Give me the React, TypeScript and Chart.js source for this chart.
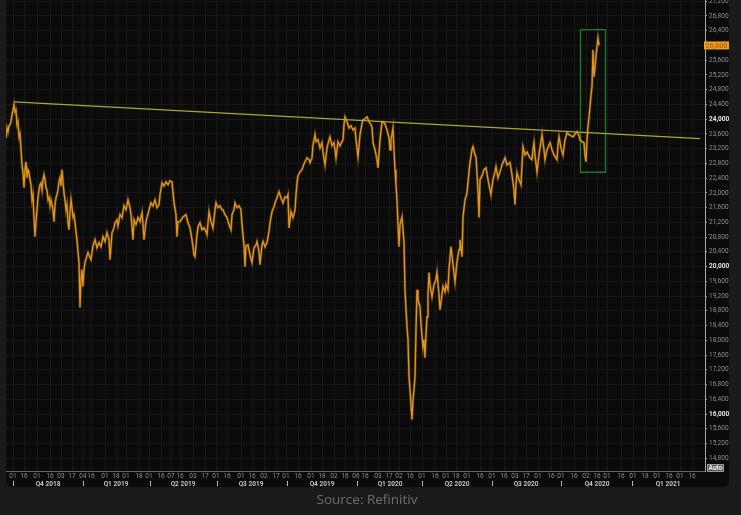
import { useEffect, useRef } from "react"
import { Chart, registerables, type Plugin } from "chart.js"

Chart.register(...registerables)

// Price readings as [trading session, close]
const leg2018: number[][] = [
  [0, 23490], [1, 23760], [2, 23660], [3, 23820], [4, 23850], [5, 23930], [6, 24120], [7, 24250], [8, 24390], [9, 24200],
  [10, 24250], [11, 23850], [12, 23930], [13, 23520], [14, 23600], [15, 23170], [16, 22760], [17, 22550], [18, 22140], [19, 22630],
  [20, 22840], [21, 22410], [22, 22630], [23, 22570], [24, 22360], [25, 22220], [26, 21810], [27, 21950], [28, 21330], [29, 20810],
  [30, 21220], [31, 21540], [32, 21870], [33, 22080], [34, 22220], [35, 22270], [36, 22080], [37, 22360], [38, 22490], [39, 22360],
  [40, 22140], [41, 22080], [42, 21810], [43, 21870], [44, 21650], [45, 21810], [46, 21680], [47, 21540], [48, 21220], [49, 21680],
  [50, 21870], [51, 21950], [52, 22080], [53, 22300], [54, 22410], [55, 22190], [56, 22630], [57, 22300], [58, 22000], [59, 21810],
  [60, 21540], [61, 21680], [62, 21190], [63, 21000], [64, 21490], [65, 21810], [66, 21600], [67, 21350], [68, 21410], [69, 21190],
  [70, 20950], [71, 20730], [72, 20400], [73, 20110], [74, 18890], [75, 19650], [76, 19920], [77, 19460], [78, 19920], [79, 20110],
]

const leg2019: number[][] = [
  [81, 20300], [82, 20380], [84, 20240], [85, 20190], [87, 20570], [89, 20730], [91, 20510], [93, 20650], [95, 20540], [97, 20810],
  [99, 20680], [101, 20920], [103, 20730], [104, 20190], [106, 20920], [108, 21050], [109, 21190], [111, 21270], [112, 21110], [114, 21410],
  [116, 21330], [118, 21650], [120, 21540], [122, 21810], [124, 21600], [125, 21410], [127, 20730], [128, 21270], [130, 21140], [132, 21330],
  [134, 21220], [136, 21460], [137, 21140], [138, 20730], [140, 21220], [141, 21330], [143, 21540], [145, 21730], [147, 21650], [149, 21810],
  [151, 21600], [153, 21680], [154, 21950], [156, 22270], [158, 22190], [160, 22300], [162, 22220], [164, 22330], [166, 22300], [167, 22030],
  [168, 21730], [170, 21410], [171, 20810], [172, 21220], [174, 21220], [177, 21350], [180, 21410], [182, 21190], [184, 21050], [186, 20730],
  [188, 20320], [189, 20270], [191, 20870], [192, 21080], [194, 21190], [196, 21000], [198, 21050], [200, 20950], [201, 20870], [203, 21490],
  [205, 21220], [207, 21050], [209, 21540], [210, 21730], [212, 21600], [214, 21650], [216, 21540], [217, 21540], [219, 21410], [221, 21330],
  [223, 21140], [225, 21000], [226, 21410], [228, 21540], [229, 21730], [231, 21600], [233, 21650], [235, 21540], [236, 21140], [238, 20590],
  [239, 20000], [240, 20570], [242, 20590], [244, 20320], [246, 20110], [248, 20510], [250, 20590], [251, 20680], [253, 20410], [254, 20050],
  [256, 20590], [257, 20680], [259, 20540], [261, 20650], [263, 20950], [264, 21190], [266, 21490], [268, 21620], [269, 21730], [271, 21870],
  [273, 22030], [275, 21870], [277, 21730], [279, 21890], [281, 21870], [282, 21950], [283, 21050], [285, 21490], [287, 21330], [289, 21540],
  [290, 21950], [291, 22270], [292, 22460], [294, 22570], [296, 22630], [298, 22790], [300, 22900], [301, 22950], [303, 22900], [304, 22820],
  [306, 22950], [307, 23300], [309, 23580], [310, 23390], [312, 23440], [314, 23220], [316, 23360], [317, 23110], [319, 22760], [321, 23220],
  [323, 23440], [324, 23520], [326, 23280], [328, 23360], [330, 22950], [331, 23170], [332, 23390], [334, 23280], [336, 23390], [337, 23440],
  [338, 23850], [339, 24060], [341, 23930], [343, 23760], [345, 23820], [347, 23710], [349, 23760], [350, 23440], [352, 22980], [354, 23580],
  [356, 23870], [357, 23980], [359, 24010], [361, 24060], [363, 23930], [365, 23850], [366, 23790], [367, 23360], [369, 23170], [371, 22900],
]

const leg2020: number[][] = [
  [372, 22680], [374, 23440], [376, 23930], [377, 23930], [379, 23870], [381, 23710], [383, 23490], [384, 23170], [385, 23440], [387, 23760],
  [388, 23170], [389, 22630], [390, 22220], [391, 21810], [392, 21140], [393, 20540], [394, 21140], [396, 21350], [397, 21000], [398, 20650],
  [399, 19370], [400, 18830], [401, 18370], [402, 18020], [403, 17020], [404, 16660], [405, 16260], [406, 15850], [407, 16390], [408, 16660],
  [409, 17020], [410, 18290], [411, 19370], [412, 19100], [414, 18910], [415, 18430], [417, 17830], [418, 18020], [419, 17530], [420, 18150],
  [421, 18640], [422, 19240], [423, 19840], [424, 19510], [426, 19180], [428, 19510], [430, 19650], [431, 19840], [433, 19240], [434, 18830],
  [436, 19240], [437, 19460], [439, 19320], [440, 19510], [442, 19370], [443, 19920], [445, 20540], [447, 20050], [449, 19590], [451, 20130],
  [453, 20460], [454, 20730], [456, 20270], [457, 21350], [459, 21810], [461, 22000], [463, 22570], [464, 22820], [466, 23170], [467, 23250],
  [469, 23030], [470, 22980], [472, 22080], [473, 21330], [474, 22360], [476, 22460], [478, 22630], [480, 22680], [482, 22360], [484, 22080],
  [485, 21950], [487, 22360], [489, 22570], [490, 22710], [492, 22410], [494, 22570], [496, 22760], [499, 22950], [501, 22760], [504, 22820],
  [506, 22490], [508, 22080], [509, 21680], [510, 22220], [511, 22550], [513, 22360], [515, 22220], [516, 22760], [517, 23250], [519, 23030],
  [521, 23110], [524, 22950], [526, 22900], [527, 23170], [528, 23360], [529, 23030], [531, 22570], [533, 23030], [535, 23390], [536, 23580],
  [538, 23170], [539, 22900], [541, 23170], [543, 23300], [544, 23360], [546, 23170], [548, 23030], [551, 22900], [552, 23300], [553, 23520],
  [555, 23220], [557, 23030], [559, 23440], [561, 23630], [563, 23580], [565, 23550], [567, 23520], [569, 23600], [571, 23660], [573, 23550],
  [574, 23440], [576, 23390], [578, 23360], [579, 23030], [580, 22840], [581, 23440], [582, 23790], [583, 24040], [584, 24330], [585, 24660],
  [586, 24880], [587, 25880], [588, 25150], [589, 25420], [590, 25740], [591, 25960], [592, 26200], [593, 26000],
]

const closes = [...leg2018, ...leg2019, ...leg2020]

const trendLine = [[8, 24470], [694, 23470]]
const breakoutBox = [[574.5, 26430], [599.5, 26430], [599.5, 22560], [574.5, 22560], [574.5, 26430]]

const yTicks = [
  27200, 26800, 26400, 26000, 25600, 25200, 24800, 24400, 24000, 23600, 23200, 22800, 22400, 22000, 21600, 21200,
  20800, 20400, 20000, 19600, 19200, 18800, 18400, 18000, 17600, 17200, 16800, 16400, 16000, 15600, 15200, 14800,
]
const boldTicks = [24000, 20000, 16000]

const dayTicks = [
  7, 18, 31, 44, 55, 66, 77, 85, 99, 110, 120, 133, 143, 155, 165, 174, 187, 199, 210, 221, 235, 246, 258, 270, 280, 292, 305, 316, 328, 339, 350, 359,
  372, 383, 393, 404, 416, 429, 440, 450, 461, 474, 486, 498, 509, 520, 532, 545, 555, 568, 580, 591, 601, 615, 627, 639, 651, 663, 674, 686,
]
const dayLabels = [
  "01", "16", "01", "16", "03", "17", "04", "16", "01", "18", "01", "18", "01", "16", "07", "16", "03", "17", "01", "16", "01", "16", "02", "17", "01", "16", "01", "18", "02", "16", "06", "16",
  "03", "17", "02", "16", "01", "16", "01", "18", "01", "16", "01", "16", "03", "17", "01", "16", "01", "16", "02", "16", "01", "16", "01", "18", "01", "16", "01", "16",
]

const quarterStarts = [7, 77, 144, 211, 281, 351, 416, 486, 555, 626]
const quarterCentres = [42, 110, 177, 245, 316, 384, 451, 520, 591, 662]
const quarterLabels = ["Q4 2018", "Q1 2019", "Q2 2019", "Q3 2019", "Q4 2019", "Q1 2020", "Q2 2020", "Q3 2020", "Q4 2020", "Q1 2021"]

const FONT = "Roboto, 'DejaVu Sans', sans-serif"
const ORANGE = "#e0951c"

const panelPlugin: Plugin = {
  id: "panel",
  beforeDraw(chart) {
    const { ctx, chartArea } = chart
    ctx.save()
    ctx.fillStyle = "#0b0b0b"
    ctx.beginPath()
    ctx.roundRect(chartArea.left, 0, 723, 487, [0, 0, 5, 5])
    ctx.fill()
    ctx.restore()
  },
  afterDraw(chart) {
    const { ctx, scales } = chart
    const last = closes[closes.length - 1][1]
    const y = scales.y.getPixelForValue(last)
    ctx.save()
    // quarter dividers under the day labels
    ctx.strokeStyle = "#bbbbbb"
    ctx.lineWidth = 1
    quarterStarts.forEach((q) => {
      const x = Math.round(scales.x.getPixelForValue(q)) + 0.5
      ctx.beginPath()
      ctx.moveTo(x, 481)
      ctx.lineTo(x, 486)
      ctx.stroke()
    })
    // last price tag
    ctx.fillStyle = "#eda01f"
    ctx.fillRect(704, y - 4, 25, 8)
    ctx.fillStyle = "#b8660a"
    ctx.font = `bold 7px ${FONT}`
    ctx.textAlign = "left"
    ctx.textBaseline = "middle"
    ctx.fillText("26,000", 705.5, y + 0.5)
    ctx.restore()
  },
}

export default function App() {
  const canvasRef = useRef<HTMLCanvasElement>(null)

  useEffect(() => {
    if (!canvasRef.current) return
    const pricePoints = closes.map(([x, y]) => ({ x, y }))
    const chart = new Chart(canvasRef.current, {
      type: "line",
      data: {
        datasets: [
          {
            label: "Trend",
            data: trendLine.map(([x, y]) => ({ x, y })),
            borderColor: "#a9a92f",
            borderWidth: 1.2,
            pointRadius: 0,
          },
          {
            label: "Price",
            data: pricePoints,
            borderColor: ORANGE,
            borderWidth: 1.3,
            pointRadius: 0,
            tension: 0,
          },
          {
            // wider soft stroke under the price, for the high/low fuzz of the bars
            label: "Price range",
            data: pricePoints,
            borderColor: "rgba(224, 149, 28, 0.35)",
            borderWidth: 2.6,
            pointRadius: 0,
            tension: 0,
          },
          {
            label: "Breakout",
            data: breakoutBox.map(([x, y]) => ({ x, y })),
            borderColor: "#1c7a2b",
            borderWidth: 1.3,
            pointRadius: 0,
          },
        ],
      },
      options: {
        responsive: false,
        animation: false,
        layout: { padding: { left: 6, right: 12, top: 0, bottom: 27 } },
        plugins: { legend: { display: false }, tooltip: { enabled: false } },
        scales: {
          x: {
            type: "linear",
            min: 0,
            max: 699,
            weight: 0,
            afterBuildTicks: (scale) => {
              scale.ticks = dayTicks.map((value) => ({ value }))
            },
            afterFit: (scale) => {
              scale.height = 9
            },
            ticks: {
              autoSkip: false,
              maxRotation: 0,
              padding: 1,
              color: "#8f8f8f",
              font: { family: FONT, size: 6.5 },
              callback: (value) => dayLabels[dayTicks.indexOf(value as number)],
            },
            grid: { color: "#171717", lineWidth: 1, drawTicks: false },
            border: { color: "#666666" },
          },
          x2: {
            type: "linear",
            axis: "x",
            position: "bottom",
            min: 0,
            max: 699,
            weight: 1,
            afterBuildTicks: (scale) => {
              scale.ticks = quarterCentres.map((value) => ({ value }))
            },
            afterFit: (scale) => {
              scale.height = 8
            },
            ticks: {
              autoSkip: false,
              maxRotation: 0,
              padding: 0,
              color: "#c4c4c4",
              font: { family: FONT, size: 6.5, weight: "bold" },
              callback: (value) => quarterLabels[quarterCentres.indexOf(value as number)],
            },
            grid: { display: false, drawTicks: false },
            border: { display: false },
          },
          y: {
            type: "linear",
            position: "right",
            min: 14455,
            max: 27233,
            afterBuildTicks: (scale) => {
              scale.ticks = yTicks.map((value) => ({ value }))
            },
            afterFit: (scale) => {
              scale.width = 24
              // the top label may run off the canvas, plot area starts at the very top
              scale.paddingTop = 0
              scale.paddingBottom = 0
            },
            ticks: {
              autoSkip: false,
              padding: 2,
              color: (ctx) => (boldTicks.includes(ctx.tick.value) ? "#e6e6e6" : "#8f8f8f"),
              font: (ctx) => ({
                family: FONT,
                size: 6.5,
                weight: boldTicks.includes(ctx.tick?.value) ? "bold" : "normal",
              }),
              callback: (value) => Number(value).toLocaleString("en-US"),
            },
            grid: { color: "#171717", lineWidth: 1, tickColor: "#8f8f8f", tickLength: 2 },
            border: { color: "#a8a8a8" },
          },
        },
      },
      plugins: [panelPlugin],
    })

    return () => {
      chart.destroy()
    }
  }, [])

  return (
    <div style={{ position: "absolute", left: 0, top: 0, width: 741, height: 515, background: "#1a1a1a", overflow: "hidden" }}>
      <canvas ref={canvasRef} width={741} height={515} style={{ display: "block", filter: "blur(0.35px)" }} />
      <div
        style={{
          position: "absolute",
          left: 707,
          top: 464,
          width: 17,
          height: 8,
          background: "#555555",
          border: "1px solid #9a9a9a",
          boxSizing: "border-box",
          color: "#eeeeee",
          font: `bold 6.5px ${FONT}`,
          lineHeight: "6px",
          textAlign: "center",
        }}
      >
        Auto
      </div>
      <div
        style={{
          position: "absolute",
          left: 0,
          width: 734,
          top: 490,
          textAlign: "center",
          color: "#6e6e6e",
          font: "13.5px 'Open Sans', sans-serif",
        }}
      >
        Source: Refinitiv
      </div>
    </div>
  )
}
